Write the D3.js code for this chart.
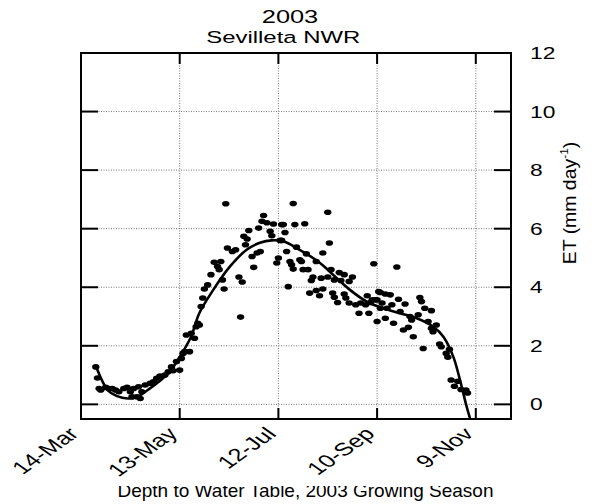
<!DOCTYPE html>
<html lang="en">
<head>
<meta charset="UTF-8">
<title>2003 Sevilleta NWR</title>
<script src="https://d3js.org/d3.v7.min.js"></script>
<style>
  body { margin: 0; background: #fff; }
  text { font-family: "Liberation Sans", Arial, sans-serif; fill: #000; }
</style>
</head>
<body>
<svg id="chart" width="613" height="504"></svg>
<script>
// x values are day of year 2003
const tickDays = [73, 133, 193, 253, 313];
const tickLabels = ["14-Mar", "13-May", "12-Jul", "10-Sep", "9-Nov"];
const yTicks = [0, 2, 4, 6, 8, 10, 12];

// daily ET observations [day, mm/day]
const observed = [
  [82,1.28],[83,0.90],[84,0.54],[85,0.49],[88,0.58],[90,0.54],[92,0.54],[94,0.49],[96,0.43],
  [99,0.54],[101,0.58],[103,0.43],[105,0.54],[104,0.26],[107,0.26],[109,0.20],[110,0.43],
  [108,0.60],[112,0.66],[115,0.72],[117,0.77],[119,0.89],[121,0.97],[124,1.00],[126,1.11],
  [129,1.15],[133,1.17],[128,1.28],[131,1.46],[134,1.57],[135,1.74],[136,1.80],[139,1.80],
  [137,2.37],[140,2.43],[142,2.26],[143,2.65],[144,2.77],[145,2.71],
  [161,6.85],[184,6.45],[183,6.25],[186,6.20],[190,6.16],[196,6.14],[181,6.02],[175,5.94],
  [188,5.91],[189,5.76],[197,5.87],[172,5.74],[174,5.65],[173,5.45],[194,5.60],[198,5.22],
  [162,5.34],[165,5.22],[167,5.28],[182,5.22],[180,5.17],[177,5.05],[158,4.88],[154,4.85],
  [156,4.71],[157,4.60],[178,4.68],[193,5.00],[192,4.83],[152,4.43],[159,4.25],[169,4.35],
  [171,4.18],[150,4.08],[148,3.94],[160,3.94],[199,4.02],[147,3.63],[146,3.34],[170,2.98],
  [202,6.86],[223,6.56],[195,6.14],[203,6.14],[209,6.17],[195,5.60],[224,5.51],[204,5.37],
  [210,5.14],[220,5.17],[206,4.94],[200,4.88],[207,4.88],[201,4.77],[216,4.88],[202,4.62],
  [208,4.60],[211,4.60],[225,4.60],[230,4.50],[233,4.43],[251,4.80],[214,4.35],[213,4.23],
  [219,4.31],[223,4.35],[227,4.25],[231,4.23],[238,4.35],[236,4.20],[212,3.80],[216,3.89],
  [220,3.94],[218,3.71],[226,3.80],[227,3.66],[233,3.77],[234,3.63],[229,3.48],[236,3.46],
  [240,3.40],[243,3.46],[247,3.71],[246,3.40],[249,3.48],[252,3.57],[242,3.11],[248,3.11],
  [253,2.83],[254,3.85],
  [265,4.69],[255,3.82],[258,3.77],[261,3.74],[250,3.57],[253,3.57],[256,3.46],[262,3.40],
  [266,3.59],[270,3.43],[279,3.65],[280,3.51],[282,3.28],[286,3.20],[255,3.28],[259,3.28],
  [267,3.17],[273,3.00],[278,3.06],[274,2.88],[258,2.94],[263,2.77],[284,2.83],[289,2.71],
  [272,2.63],[269,2.54],[286,2.60],[287,2.48],[275,2.31],[291,2.06],[292,1.97],[297,1.88],
  [281,1.91],[295,1.74],[296,1.61],[298,0.83],[302,0.79],[300,0.62],[304,0.51],[307,0.49],
  [308,0.39]
];

// fitted seasonal curve
const fitDays = [82.5, 89.2, 94.9, 101.4, 107, 113.5, 121.6, 127.7, 133.8, 139.9, 144.9, 153.4,
  163.6, 173.7, 181.8, 188.9, 196.4, 204.1, 218.3, 226.4, 236.5, 246.7, 256.8, 266.9, 277.1,
  287.2, 293.3, 299.3, 303.4, 307.5, 310.7];
const fitET = [1.24, 0.49, 0.28, 0.20, 0.25, 0.49, 0.83, 1.17, 1.69, 2.31, 3.11, 3.91,
  4.71, 5.28, 5.52, 5.60, 5.56, 5.34, 4.83, 4.42, 3.91, 3.51, 3.28, 3.11, 2.94,
  2.65, 2.31, 1.63, 0.83, -0.09, -0.71];

const pLeft = 81, pRight = 511, pTop = 53, pBottom = 419;
const stretch = 1.42;

const svg = d3.select("#chart");
const x = d3.scaleLinear().domain([73, 334.4]).range([pLeft, pRight]);
const y = d3.scaleLinear().domain([-0.5, 12]).range([pBottom, pTop]);

const defs = svg.append("defs");
defs.append("clipPath").attr("id", "plot")
  .append("rect").attr("x", pLeft).attr("y", pTop)
  .attr("width", pRight - pLeft).attr("height", pBottom - pTop);
defs.append("clipPath").attr("id", "foot")
  .append("rect").attr("x", 0).attr("y", 486).attr("width", 613).attr("height", 18);

// dotted grid
const grid = svg.append("g").attr("stroke", "#777").attr("stroke-width", 1)
  .attr("stroke-dasharray", "1,1.5");
grid.selectAll("line.v").data(tickDays.slice(1)).join("line").attr("class", "v")
  .attr("x1", d => x(d)).attr("x2", d => x(d))
  .attr("y1", pTop).attr("y2", pBottom);
grid.selectAll("line.h").data(yTicks.slice(0, -1)).join("line").attr("class", "h")
  .attr("x1", pLeft).attr("x2", pRight)
  .attr("y1", d => y(d)).attr("y2", d => y(d));

// fitted line and points
const plot = svg.append("g").attr("clip-path", "url(#plot)");
const line = d3.line().x(d => x(d[0])).y(d => y(d[1])).curve(d3.curveCatmullRom.alpha(0.5));
plot.append("path").datum(fitDays.map((d, i) => [d, fitET[i]]))
  .attr("d", line).attr("fill", "none").attr("stroke", "#000").attr("stroke-width", 2.6);
plot.selectAll("ellipse").data(observed).join("ellipse")
  .attr("cx", d => x(d[0])).attr("cy", d => y(d[1]))
  .attr("rx", 3.7).attr("ry", 2.8).attr("fill", "#000");

// ticks
const ticks = svg.append("g").attr("stroke", "#000").attr("stroke-width", 2);
tickDays.slice(1).forEach(d => {
  ticks.append("line").attr("x1", x(d)).attr("x2", x(d)).attr("y1", pBottom).attr("y2", pBottom - 11);
  ticks.append("line").attr("x1", x(d)).attr("x2", x(d)).attr("y1", pTop).attr("y2", pTop + 11);
});
yTicks.slice(0, -1).forEach(v => {
  ticks.append("line").attr("x1", pLeft).attr("x2", pLeft + 17).attr("y1", y(v)).attr("y2", y(v));
  ticks.append("line").attr("x1", pRight).attr("x2", pRight - 17).attr("y1", y(v)).attr("y2", y(v));
});

// frame
svg.append("rect").attr("x", pLeft).attr("y", pTop)
  .attr("width", pRight - pLeft).attr("height", pBottom - pTop)
  .attr("fill", "none").attr("stroke", "#000").attr("stroke-width", 2);

// x tick labels
svg.append("g").selectAll("text").data(tickDays).join("text")
  .attr("transform", d => `translate(${x(d) - 1},435) scale(${stretch},1) rotate(-45)`)
  .attr("text-anchor", "end").attr("font-size", 18)
  .text((d, i) => tickLabels[i]);

// right y labels
svg.append("g").selectAll("text").data(yTicks).join("text")
  .attr("transform", d => `translate(530,${y(d) + 6}) scale(1.38,1)`)
  .attr("font-size", 16.5)
  .text(d => d);

const et = svg.append("text")
  .attr("transform", "translate(576,203) rotate(-90) scale(1.08,1)")
  .attr("text-anchor", "middle").attr("font-size", 18);
et.append("tspan").text("ET (mm day");
et.append("tspan").attr("font-size", 11).attr("dy", -8).text("-1");
et.append("tspan").attr("dy", 8).text(")");

// titles
svg.append("text").attr("transform", "translate(290,23.3) scale(1.45,1)")
  .attr("text-anchor", "middle").attr("font-size", 17.5).text("2003");
svg.append("text").attr("transform", "translate(283.3,43.3) scale(1.45,1)")
  .attr("text-anchor", "middle").attr("font-size", 16.5).text("Sevilleta NWR");

svg.append("text").attr("clip-path", "url(#foot)")
  .attr("x", 305.5).attr("y", 497).attr("text-anchor", "middle").attr("font-size", 19)
  .text("Depth to Water Table, 2003 Growing Season");
</script>
</body>
</html>
